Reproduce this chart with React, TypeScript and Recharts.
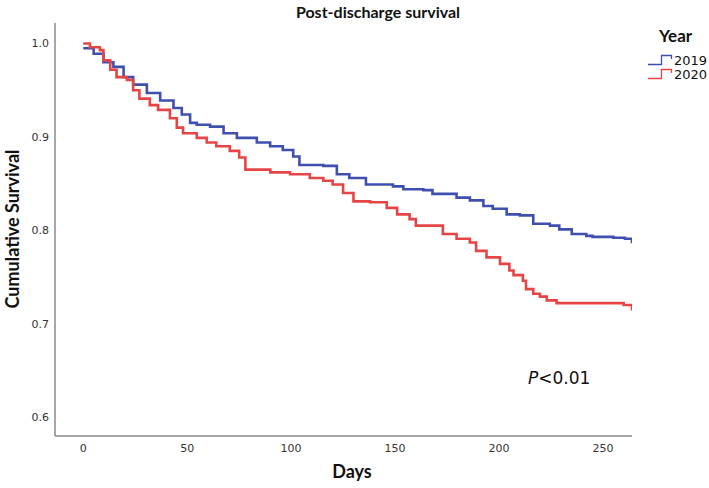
import { LineChart, Line, XAxis, YAxis } from "recharts";

// Kaplan-Meier estimates (day, cumulative survival)
const days2019 = [
  0, 5, 9.7, 14.5, 19.4, 24, 30.6, 37, 43.4, 47.4, 51.4, 54.6, 61, 67.5, 73.9,
  83.5, 89.9, 96, 101, 104, 115.5, 122, 128, 136, 149, 154, 163.6, 168, 179.6,
  186, 192.5, 197, 203.7, 210, 216.5, 224.5, 229, 235, 242, 245, 255, 260.6,
  264,
];
const surv2019 = [
  0.995, 0.989, 0.98, 0.975, 0.964, 0.956, 0.947, 0.939, 0.931, 0.924, 0.915,
  0.913, 0.911, 0.904, 0.899, 0.894, 0.89, 0.886, 0.879, 0.87, 0.869, 0.86,
  0.856, 0.849, 0.847, 0.844, 0.843, 0.839, 0.835, 0.832, 0.826, 0.823, 0.817,
  0.816, 0.807, 0.805, 0.801, 0.796, 0.794, 0.793, 0.792, 0.791, 0.786,
];

const days2020 = [
  0, 3.2, 8, 9.7, 13, 16, 21, 24, 27, 32, 36, 41.7, 45, 48, 54.6, 59.4, 64,
  70.5, 75, 78, 90, 99.5, 109, 115.5, 120, 125, 130, 138, 146, 151, 157, 160,
  170, 173, 179.6, 186, 189, 194, 200.5, 205, 207, 211.5, 213, 216.5, 219.7, 223,
  227.7, 258, 260, 264,
];
const surv2020 = [
  1.0, 0.996, 0.993, 0.982, 0.972, 0.964, 0.961, 0.95, 0.941, 0.934, 0.929,
  0.92, 0.91, 0.904, 0.899, 0.894, 0.89, 0.885, 0.878, 0.865, 0.862, 0.86,
  0.856, 0.853, 0.849, 0.84, 0.831, 0.83, 0.824, 0.817, 0.812, 0.805, 0.805,
  0.796, 0.791, 0.787, 0.778, 0.771, 0.764, 0.757, 0.752, 0.746, 0.737, 0.732,
  0.729, 0.725, 0.722, 0.722, 0.72, 0.714,
];

const xTicks = [0, 50, 100, 150, 200, 250];
const yTicks = [0.6, 0.7, 0.8, 0.9, 1.0];

const series = [
  { name: "2019", color: "#3f4fae", days: days2019, surv: surv2019 },
  { name: "2020", color: "#e54545", days: days2020, surv: surv2020 },
];

const FONT = "'DejaVu Sans', sans-serif";
const LABEL_FONT = "Lato, 'Open Sans', sans-serif";

const tickStyle = { fontSize: 11, fill: "#333", fontFamily: FONT };
const axisLine = { stroke: "#8a8a8a", strokeWidth: 1.5 };

function StepIcon({ color }: { color: string }) {
  return (
    <svg width={26} height={12} style={{ display: "block" }}>
      <path
        d="M1 10.5 H14.5 V1.5 H24.5 V5"
        fill="none"
        stroke={color}
        strokeWidth={1.3}
      />
    </svg>
  );
}

export default function App() {
  return (
    <div
      style={{
        position: "absolute",
        left: 0,
        top: 0,
        width: 709,
        height: 488,
        background: "#fff",
        fontFamily: LABEL_FONT,
      }}
    >
      <LineChart
        width={709}
        height={488}
        margin={{ top: 23, right: 77, bottom: 0, left: 0 }}
      >
        <XAxis
          type="number"
          dataKey="day"
          domain={[-13.6, 264]}
          ticks={xTicks}
          allowDataOverflow
          tickLine={false}
          axisLine={axisLine}
          tick={tickStyle}
          height={52}
        />
        <YAxis
          type="number"
          dataKey="surv"
          domain={[0.5797, 1.022]}
          ticks={yTicks}
          allowDataOverflow
          tickLine={false}
          axisLine={axisLine}
          tick={tickStyle}
          tickFormatter={(v: number) => v.toFixed(1)}
          tickMargin={0}
          width={55}
        />
        {series.map((s) => (
          <Line
            key={s.name}
            name={s.name}
            data={s.days.map((d, i) => ({ day: d, surv: s.surv[i] }))}
            dataKey="surv"
            type="stepAfter"
            stroke={s.color}
            strokeWidth={2.6}
            dot={false}
            isAnimationActive={false}
          />
        ))}
      </LineChart>

      {/* title */}
      <div
        style={{
          position: "absolute",
          left: 378,
          top: 2,
          transform: "translateX(-50%)",
          fontSize: 16,
          fontWeight: 700,
          whiteSpace: "nowrap",
          color: "#111",
        }}
      >
        Post-discharge survival
      </div>

      {/* y axis label */}
      <div
        style={{
          position: "absolute",
          left: 12,
          top: 229,
          transform: "translate(-50%, -50%) rotate(-90deg)",
          fontSize: 18,
          fontWeight: 700,
          whiteSpace: "nowrap",
          color: "#111",
        }}
      >
        Cumulative Survival
      </div>

      {/* x axis label */}
      <div
        style={{
          position: "absolute",
          left: 352,
          top: 471,
          transform: "translate(-50%, -50%)",
          fontSize: 18,
          fontWeight: 700,
          color: "#111",
        }}
      >
        Days
      </div>

      {/* p value */}
      <div
        style={{
          position: "absolute",
          left: 528,
          top: 368,
          fontSize: 17,
          fontFamily: FONT,
          color: "#111",
        }}
      >
        <span style={{ fontStyle: "italic" }}>P</span>&lt;0.01
      </div>

      {/* legend */}
      <div style={{ position: "absolute", left: 647, top: 25 }}>
        <div
          style={{
            fontSize: 17,
            fontWeight: 700,
            marginLeft: 12,
            color: "#111",
            lineHeight: "22px",
          }}
        >
          Year
        </div>
        {series.map((s) => (
          <div
            key={s.name}
            style={{
              display: "flex",
              alignItems: "center",
              height: 14,
              marginTop: s.name === "2019" ? 6 : 0,
            }}
          >
            <StepIcon color={s.color} />
            <span
              style={{
                fontSize: 13,
                fontFamily: FONT,
                color: "#111",
                marginLeft: 1,
              }}
            >
              {s.name}
            </span>
          </div>
        ))}
      </div>
    </div>
  );
}
